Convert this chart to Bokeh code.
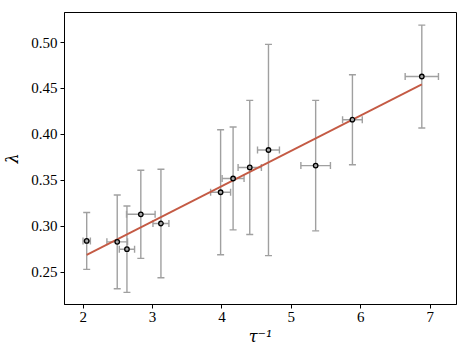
import numpy as np
from bokeh.plotting import figure
from bokeh.models import ColumnDataSource, Whisker, TeeHead, Range1d, FixedTicker
from bokeh.embed import file_html
from bokeh.resources import INLINE

# data
tau_inv = [2.05, 2.49, 2.63, 2.83, 3.12, 3.98, 4.16, 4.40, 4.67, 5.35, 5.88, 6.88]
lam = [0.284, 0.283, 0.275, 0.313, 0.303, 0.337, 0.352, 0.364, 0.383, 0.366, 0.416, 0.463]
lam_err = [0.031, 0.051, 0.047, 0.048, 0.059, 0.068, 0.056, 0.073, 0.115, 0.071, 0.049, 0.056]
tau_err = [0.053, 0.149, 0.110, 0.206, 0.115, 0.144, 0.158, 0.168, 0.158, 0.213, 0.142, 0.240]
fit_x = [2.05, 6.88]
fit_y = [0.2688, 0.4544]
x_ticks = [2, 3, 4, 5, 6, 7]
y_ticks = [0.25, 0.30, 0.35, 0.40, 0.45, 0.50]

x = np.array(tau_inv)
y = np.array(lam)
ye = np.array(lam_err)
xe = np.array(tau_err)
src = ColumnDataSource(dict(x=x, y=y, ylo=y - ye, yhi=y + ye, xlo=x - xe, xhi=x + xe))

FONT = "Liberation Serif"
p = figure(output_backend="svg", toolbar_location=None,
           frame_width=392, frame_height=292,
           x_range=Range1d(1.73, 7.38), y_range=Range1d(0.2148, 0.5327),
           min_border_left=60, min_border_right=4, min_border_top=12, min_border_bottom=44)
p.background_fill_color = "white"
p.border_fill_color = "white"
p.outline_line_color = "black"
p.outline_line_width = 1
p.xgrid.visible = False
p.ygrid.visible = False

err_col = "#a0a0a0"
wy = Whisker(source=src, base="x", lower="ylo", upper="yhi", dimension="height",
             line_color=err_col, line_width=1.4,
             lower_head=TeeHead(size=7, line_color=err_col, line_width=1.4),
             upper_head=TeeHead(size=7, line_color=err_col, line_width=1.4))
wx = Whisker(source=src, base="y", lower="xlo", upper="xhi", dimension="width",
             line_color=err_col, line_width=1.4,
             lower_head=TeeHead(size=7, line_color=err_col, line_width=1.4),
             upper_head=TeeHead(size=7, line_color=err_col, line_width=1.4))
p.add_layout(wy)
p.add_layout(wx)

p.line(fit_x, fit_y, line_color="#c45a44", line_width=1.8)
p.scatter("x", "y", source=src, size=4.5, fill_color="#aaaaaa", line_color="black", line_width=1.3)

for ax in (p.xaxis[0], p.yaxis[0]):
    ax.major_label_text_font = FONT
    ax.major_label_text_font_size = "15px"
    ax.major_label_text_color = "black"
    ax.major_label_standoff = 3
    ax.axis_label_text_font = "DejaVu Serif"
    ax.axis_label_text_font_size = "16px"
    ax.axis_label_text_font_style = "italic"
    ax.axis_label_text_color = "black"
    ax.minor_tick_line_color = None
    ax.major_tick_in = 0
    ax.major_tick_out = 4
    ax.major_tick_line_color = "black"
    ax.axis_line_color = "black"

p.xaxis[0].ticker = FixedTicker(ticks=x_ticks)
p.yaxis[0].ticker = FixedTicker(ticks=y_ticks)
p.xaxis[0].major_label_overrides = {t: str(t) for t in x_ticks}
p.yaxis[0].major_label_overrides = {t: f"{t:.2f}" for t in y_ticks}
p.xaxis[0].axis_label = "τ⁻¹"
p.yaxis[0].axis_label = "λ"
p.xaxis[0].axis_label_standoff = 2
p.yaxis[0].axis_label_standoff = 6

open("out.html", "w").write(file_html(p, INLINE))
